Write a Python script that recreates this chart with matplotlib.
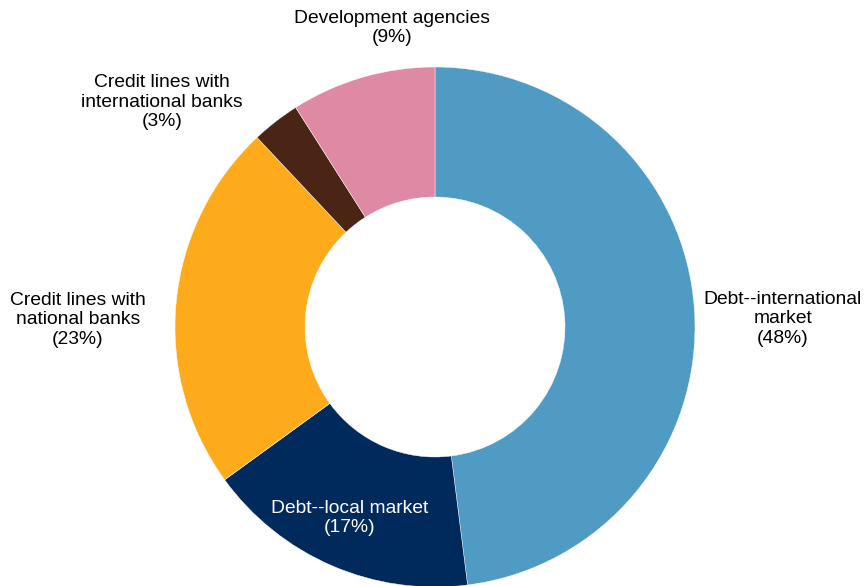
import matplotlib
matplotlib.use('Agg')
import matplotlib.pyplot as plt

labels = ['Debt--international\nmarket', 'Debt--local market', 'Credit lines with\nnational banks',
          'Credit lines with\ninternational banks', 'Development agencies']
shares = [48, 17, 23, 3, 9]
colors = ['#4F9BC4', '#002A5C', '#FDAB1A', '#4A2516', '#DE8AA5']
label_pos = [(1.338, 0.031), (-0.327, -0.735), (-1.373, 0.027), (-1.05, 0.865), (-0.165, 1.15)]
text_colors = ['black', 'white', 'black', 'black', 'black']

fig = plt.figure(figsize=(8.64, 5.86), dpi=100)
ax = fig.add_axes([0, 0, 1, 1])
ax.pie(shares, colors=colors, startangle=90, counterclock=False, radius=1.0,
       wedgeprops=dict(width=0.5, edgecolor='white', linewidth=0.3))
for lab, val, pos, tc in zip(labels, shares, label_pos, text_colors):
    ax.text(pos[0], pos[1], '{}\n({}%)'.format(lab, val), ha='center', va='center',
            color=tc, fontsize=13.9, family='Liberation Sans', linespacing=1.2)
ax.set_xlim(-435/260, (864-435)/260)
ax.set_ylim(-(586-327)/260, 327/260)
ax.set_aspect('equal')
ax.axis('off')
fig.savefig('out.png', dpi=100)
